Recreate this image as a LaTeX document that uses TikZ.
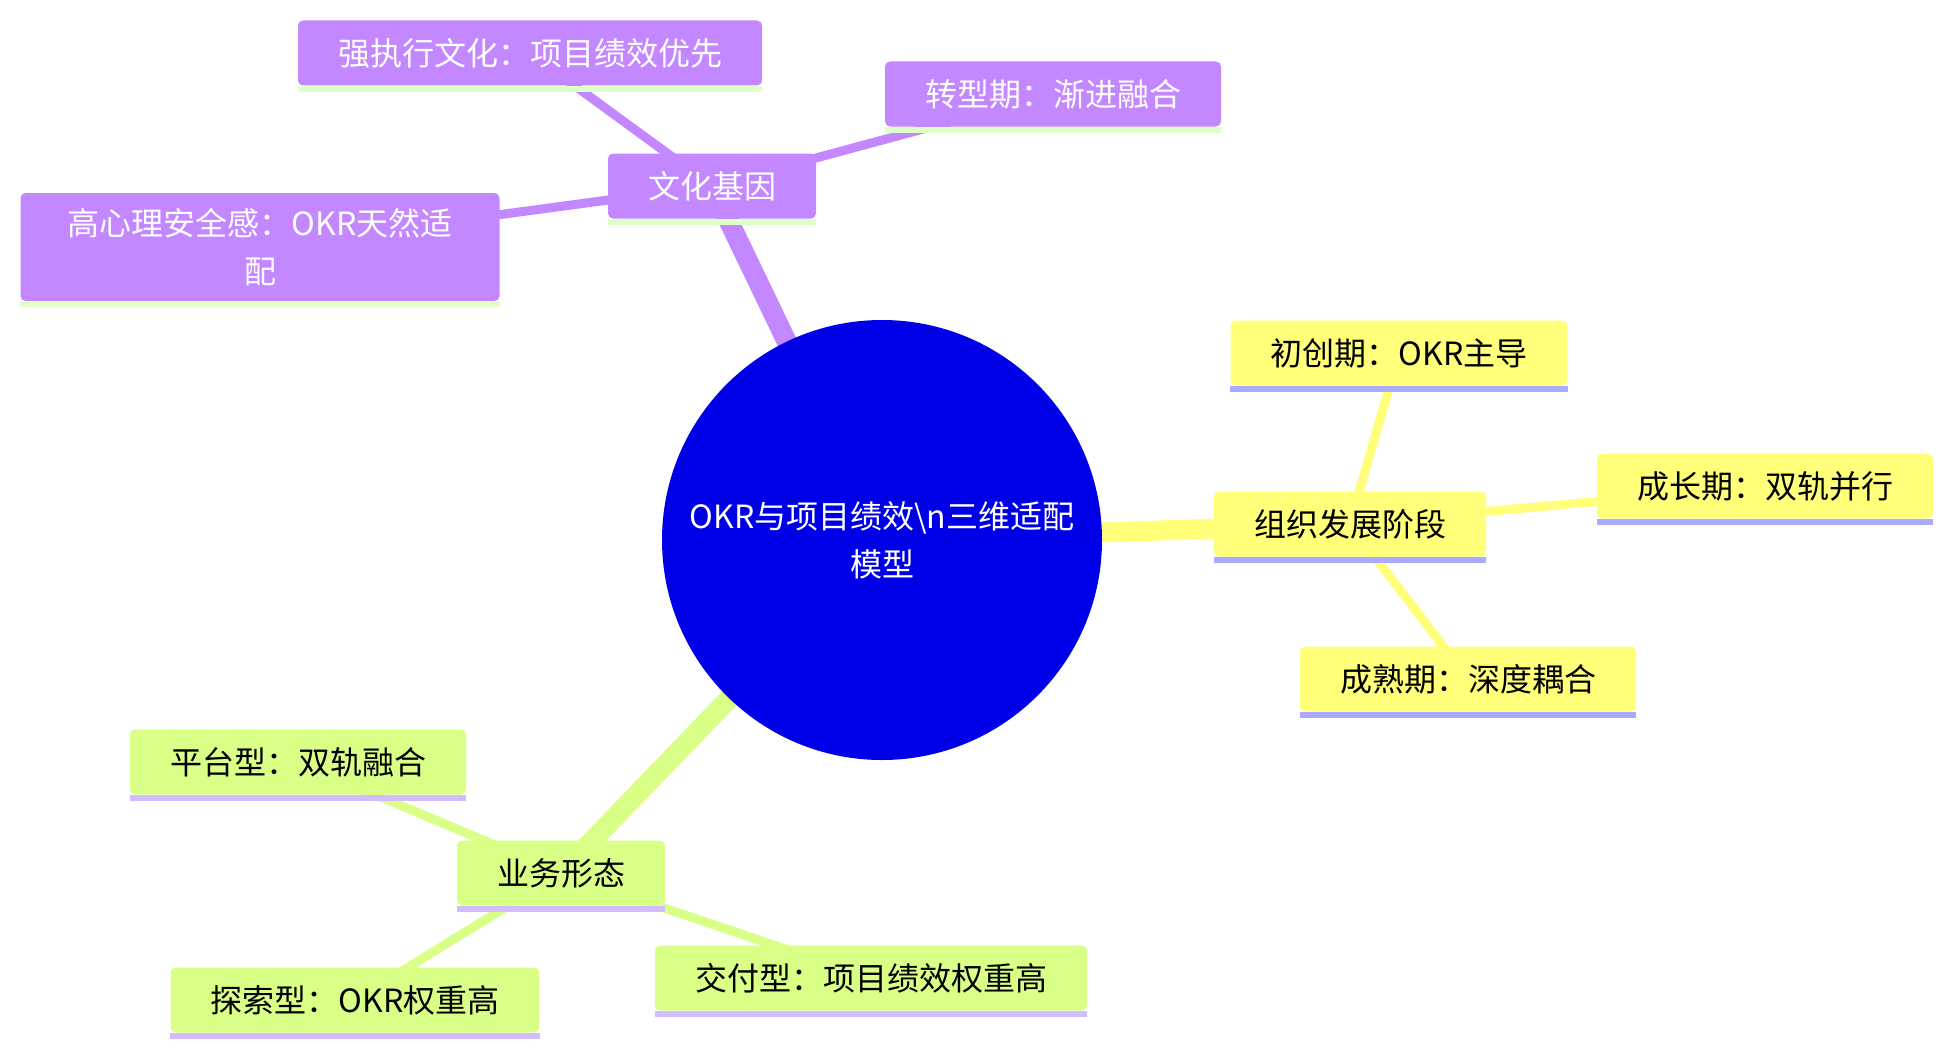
\documentclass[tikz,border=0pt]{standalone}
\usepackage{fontspec}
\setmainfont{Noto Sans CJK SC}
\usetikzlibrary{backgrounds}
\definecolor{rootblue}{HTML}{0000E8}
\definecolor{culturefill}{HTML}{C387FF}
\definecolor{cultureline}{HTML}{DEFFC8}
\definecolor{stagefill}{HTML}{FFFF7A}
\definecolor{stageline}{HTML}{AAAAFF}
\definecolor{bizfill}{HTML}{D9FF87}
\definecolor{bizline}{HTML}{D2BCFF}

\begin{document}
\begin{tikzpicture}[x=0.5pt, y=-0.5pt, font=\fontsize{16pt}{24pt}\selectfont,
  rootnode/.style={circle, fill=rootblue, text=white, minimum size=220pt, inner sep=0pt, align=center},
  box/.style={rectangle, rounded corners=2.5pt, minimum height=32.5pt, inner xsep=20pt, inner ysep=0pt, align=center},
  culturebox/.style={box, fill=culturefill, text=white},
  stagebox/.style={box, fill=stagefill, text=black},
  bizbox/.style={box, fill=bizfill, text=black},
  trunk/.style={line width=10pt},
  twig/.style={line width=4.5pt}]
  \useasboundingbox (0,0) rectangle (1952,1054);
  % root
  \node[rootnode] (root) at (882,540) {OKR与项目绩效\textbackslash n三维适配\\模型};
  % branch A : culture
  \node[culturebox] (culture) at (712,186) {文化基因};
  \node[culturebox] (strong) at (530,53) {强执行文化：项目绩效优先};
  \node[culturebox] (transit) at (1053,94) {转型期：渐进融合};
  \node[culturebox, minimum height=54pt, minimum width=239.5pt] (safety) at (260,247) {高心理安全感：OKR天然适\\配};
  % branch B : stage
  \node[stagebox] (stage) at (1350,524) {组织发展阶段};
  \node[stagebox] (startup) at (1399,353) {初创期：OKR主导};
  \node[stagebox] (growth) at (1765,486) {成长期：双轨并行};
  \node[stagebox] (mature) at (1468,679) {成熟期：深度耦合};
  % branch C : business
  \node[bizbox] (biz) at (561,873) {业务形态};
  \node[bizbox] (platform) at (298,762) {平台型：双轨融合};
  \node[bizbox] (explore) at (355,1000) {探索型：OKR权重高};
  \node[bizbox] (deliver) at (871,978) {交付型：项目绩效权重高};
  % underlines
  \foreach \n in {culture,strong,transit,safety}
    \draw[cultureline, line width=3pt] ([yshift=-1.5pt]\n.south west) -- ([yshift=-1.5pt]\n.south east);
  \foreach \n in {stage,startup,growth,mature}
    \draw[stageline, line width=3pt] ([yshift=-1.5pt]\n.south west) -- ([yshift=-1.5pt]\n.south east);
  \foreach \n in {biz,platform,explore,deliver}
    \draw[bizline, line width=3pt] ([yshift=-1.5pt]\n.south west) -- ([yshift=-1.5pt]\n.south east);
  % edges
  \begin{scope}[on background layer]
    \draw[trunk, culturefill] (root.center) -- (culture.center);
    \draw[trunk, stagefill] (root.center) -- (stage.center);
    \draw[trunk, bizfill] (root.center) -- (biz.center);
    \foreach \n in {strong,transit,safety}
      \draw[twig, culturefill] (culture.center) -- (\n.center);
    \foreach \n in {startup,growth,mature}
      \draw[twig, stagefill] (stage.center) -- (\n.center);
    \foreach \n in {platform,explore,deliver}
      \draw[twig, bizfill] (biz.center) -- (\n.center);
  \end{scope}
\end{tikzpicture}
\end{document}
